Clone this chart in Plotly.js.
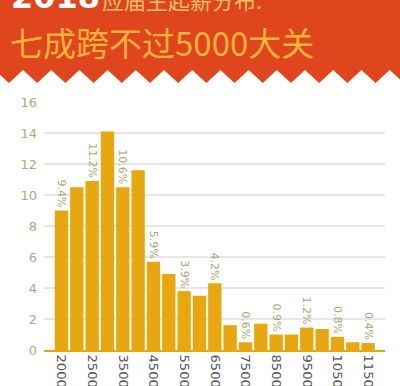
<!DOCTYPE html>
<html>
<head>
<meta charset="utf-8">
<script src="https://cdn.plot.ly/plotly-3.0.1.min.js"></script>
<style>html,body{margin:0;padding:0;background:#fff;}#chart{width:400px;height:386px;}</style>
</head>
<body>
<div id="chart"></div>
<script>
const categories = ["2000","2000+","2500","3000","3500","4000","4500","5000","5500","6000","6500","7000","7500","8000","8500","9000","9500","10000","10500","11000","11500"];
const values = [9.0,10.5,10.9,14.1,10.5,11.6,5.7,4.9,3.8,3.5,4.3,1.6,0.5,1.7,1.0,1.0,1.45,1.35,0.85,0.5,0.45];
const pctLabels = ["9.4%","","11.2%","","10.6%","","5.9%","","3.9%","","4.2%","","0.6%","","0.9%","","1.2%","","0.8%","","0.4%"];
const tickLabels = ["2000","2500","3500","4500","5500","6500","7500","8500","9500","10500","11500"];
const titleLine1a = "2018";
const titleLine1b = "应届生起薪分布:";
const titleLine2 = "七成跨不过5000大关";

const W = 400, H = 386, L = 44, R = 15, T = 102, B = 36;
const pw = W - L - R, ph = H - T - B;
const px = x => (x - L) / pw;
const py = y => (H - B - y) / ph;

// banner with zigzag bottom edge
let pts = [[0,0],[400,0],[400,72]];
const period = 28.2;
let zz = [];
for (let k = -1; k < 16; k++) {
  const tx = 9 + period * k, pk = 23 + period * k;
  zz.push([tx, 83]); zz.push([pk, 70]);
}
zz = zz.filter(p => p[0] > -20 && p[0] < 420).reverse();
pts = pts.concat(zz);
let path = 'M ' + pts.map(p => px(p[0]).toFixed(4) + ',' + py(p[1]).toFixed(4)).join(' L ') + ' Z';

const data = [{
  type: 'bar',
  x: categories,
  y: values,
  text: pctLabels,
  textposition: 'outside',
  textangle: 90,
  constraintext: 'none',
  cliponaxis: false,
  textfont: {family: 'DejaVu Sans, sans-serif', size: 11, color: '#a9a572'},
  marker: {color: '#e9a70f', line: {width: 0}},
  hoverinfo: 'none'
}];

const layout = {
  width: W, height: H,
  margin: {l: L, r: R, t: T, b: B, pad: 0},
  paper_bgcolor: '#ffffff',
  plot_bgcolor: '#ffffff',
  showlegend: false,
  bargap: 0.13,
  font: {family: 'DejaVu Sans, sans-serif'},
  xaxis: {
    type: 'category',
    range: [-1.14, 21.1],
    tickmode: 'array',
    tickvals: tickLabels,
    ticktext: tickLabels,
    tickangle: 90,
    tickfont: {size: 13, color: '#555555', family: 'DejaVu Sans, sans-serif'},
    showgrid: false,
    showline: true,
    linecolor: '#e9a70f',
    linewidth: 2,
    ticks: '',
    fixedrange: true
  },
  yaxis: {
    range: [0, 16],
    dtick: 2,
    tick0: 0,
    gridcolor: '#e6e6e6',
    gridwidth: 1.5,
    zeroline: false,
    showline: false,
    ticks: '',
    ticklabelstandoff: 6,
    tickfont: {size: 13, color: '#aeaa76', family: 'DejaVu Sans, sans-serif'},
    fixedrange: true
  },
  shapes: [{
    type: 'path', xref: 'paper', yref: 'paper', path: path,
    fillcolor: '#e0461d', line: {width: 0}, layer: 'below'
  }],
  annotations: [
    {xref: 'paper', yref: 'paper', x: px(9), y: py(18), xanchor: 'left', yanchor: 'bottom',
     text: '<b>' + titleLine1a + '</b>', showarrow: false,
     font: {family: 'DejaVu Sans, sans-serif', size: 32, color: '#ffffff'}},
    {xref: 'paper', yref: 'paper', x: px(100), y: py(17), xanchor: 'left', yanchor: 'bottom',
     text: titleLine1b, showarrow: false,
     font: {family: 'Noto Sans CJK SC', size: 22, color: '#f6bf6a'}},
    {xref: 'paper', yref: 'paper', x: px(8), y: py(42), xanchor: 'left', yanchor: 'middle',
     text: titleLine2, showarrow: false,
     font: {family: 'Noto Sans CJK SC', size: 33, color: '#f7b43a'}}
  ]
};

Plotly.newPlot('chart', data, layout, {displayModeBar: false, staticPlot: true});
</script>
</body>
</html>
